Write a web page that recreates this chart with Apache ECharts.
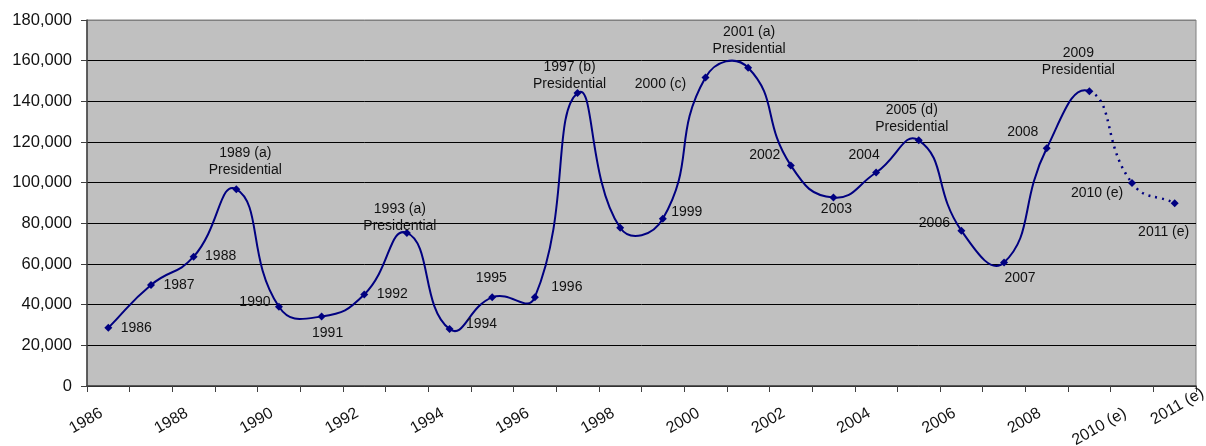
<!DOCTYPE html>
<html>
<head>
<meta charset="utf-8">
<script src="https://cdn.jsdelivr.net/npm/echarts@6/dist/echarts.min.js"></script>
<style>
html, body { margin: 0; padding: 0; background: #fff; }
#chart { width: 1206px; height: 446px; }
</style>
</head>
<body>
<div id="chart"></div>
<script>
const years = ['1986', '1987', '1988', '1989', '1990', '1991', '1992', '1993', '1994', '1995',
	'1996', '1997', '1998', '1999', '2000', '2001', '2002', '2003', '2004', '2005',
	'2006', '2007', '2008', '2009', '2010 (e)', '2011 (e)'];

const visitors = [28600, 49700, 63600, 96800, 39000, 34200, 45000, 75300, 28000, 43600,
	43700, 144100, 77800, 82200, 151700, 156500, 108500, 92700, 105000, 120800,
	76400, 60700, 116900, 145000, 99800, 89900];

// text shown next to each point ('' = no label)
const pointNotes = ['1986', '1987', '1988', '1989 (a)\nPresidential', '1990', '1991', '1992',
	'1993 (a)\nPresidential', '1994', '1995', '1996', '1997 (b)\nPresidential', '', '1999',
	'2000 (c)', '2001 (a)\nPresidential', '2002', '2003', '2004', '2005 (d)\nPresidential',
	'2006', '2007', '2008', '2009\nPresidential', '2010 (e)', '2011 (e)'];

// where each label sits relative to its point (px)
const labelNudge = [[28, 0], [28, 0], [27, -1], [9, -28], [-24, -5], [6, 17], [28, 0],
	[-7, -15], [32, -5], [-1, -19], [32, -10], [-8, -17], [0, 0], [24, -7],
	[-45, 7], [1, -27], [-26, -10], [3, 12], [-12, -17], [-7, -22],
	[-27, -8], [16, 16], [-24, -16], [-11, -30], [-35, 10], [-11, 29]];

const lastActual = years.indexOf('2009');

const navy = '#000080';
const font = 'Liberation Sans, Arial, sans-serif';
const smoothK = 0.5;

// one smoothed segment from point i to i+1 (spreadsheet-style curve, may overshoot)
const curveSegment = function (params, api) {
	const i = params.dataIndex;
	const n = visitors.length;
	if (i >= n - 1) return null;
	const pt = (k) => {
		const j = Math.min(Math.max(k, 0), n - 1);
		return api.coord([j, visitors[j]]);
	};
	const p0 = pt(i - 1), p1 = pt(i), p2 = pt(i + 1), p3 = pt(i + 2);
	const dist = (a, b) => Math.hypot(b[0] - a[0], b[1] - a[1]);
	const dA = dist(p0, p1), dB = dist(p1, p2), dC = dist(p2, p3);
	const r1 = dB / (dA + dB);
	const r2 = dB / (dB + dC);
	const dashed = i >= lastActual;
	return {
		type: 'bezierCurve',
		shape: {
			x1: p1[0], y1: p1[1],
			x2: p2[0], y2: p2[1],
			cpx1: p1[0] + (p2[0] - p0[0]) * smoothK * r1,
			cpy1: p1[1] + (p2[1] - p0[1]) * smoothK * r1,
			cpx2: p2[0] - (p3[0] - p1[0]) * smoothK * r2,
			cpy2: p2[1] - (p3[1] - p1[1]) * smoothK * r2
		},
		style: {
			fill: 'none',
			stroke: navy,
			lineWidth: dashed ? 2.5 : 2,
			lineDash: dashed ? [2, 5] : null
		}
	};
};

const splitColors = ['#000', '#000', '#000', '#000', '#000', '#000', '#000', '#000', '#000', '#808080'];

const option = {
	animation: false,
	grid: {
		left: 87,
		right: 10,
		top: 20,
		bottom: 60,
		outerBoundsMode: 'none',
		show: true,
		backgroundColor: '#C0C0C0',
		borderColor: '#808080',
		borderWidth: 1
	},
	xAxis: {
		type: 'category',
		data: years,
		boundaryGap: true,
		axisLine: { lineStyle: { color: '#404040', width: 1.5 } },
		axisTick: { show: true, interval: 0, length: 6, lineStyle: { color: '#404040' } },
		axisLabel: {
			interval: (i) => i % 2 === 0 || i === years.length - 1,
			rotate: 30,
			margin: 22,
			padding: [0, 8, 0, 0],
			fontSize: 16,
			color: '#111',
			fontFamily: font,
			formatter: (v, i) => (i === years.length - 1 ? '{last|' + v + '}' : v),
			rich: {
				last: { width: 18, align: 'left', fontSize: 16, fontFamily: font, color: '#111' }
			}
		}
	},
	yAxis: {
		type: 'value',
		min: 0,
		max: 180000,
		interval: 20000,
		axisLine: { show: true, lineStyle: { color: '#404040', width: 1.5 } },
		axisTick: { show: true, length: 6, lineStyle: { color: '#404040' } },
		axisLabel: {
			margin: 15,
			fontSize: 16.5,
			color: '#111',
			fontFamily: font,
			formatter: (v) => v.toLocaleString('en-US')
		},
		splitLine: { show: true, lineStyle: { color: splitColors, width: 1 } }
	},
	series: [
		{
			type: 'custom',
			renderItem: curveSegment,
			data: visitors.map((v, i) => [i, v]),
			encode: { x: 0, y: 1 },
			silent: true,
			z: 2
		},
		{
			type: 'scatter',
			symbol: 'diamond',
			symbolSize: 8,
			itemStyle: { color: navy, borderWidth: 0, opacity: 1 },
			label: {
				show: true,
				position: 'inside',
				color: '#111',
				fontSize: 14,
				fontFamily: font,
				lineHeight: 17,
				align: 'center',
				verticalAlign: 'middle'
			},
			data: visitors.map((v, i) => ({
				value: v,
				label: {
					show: pointNotes[i] !== '',
					formatter: pointNotes[i],
					offset: labelNudge[i]
				}
			})),
			z: 3
		}
	]
};

const chart = echarts.init(document.getElementById('chart'));
chart.setOption(option);
</script>
</body>
</html>
